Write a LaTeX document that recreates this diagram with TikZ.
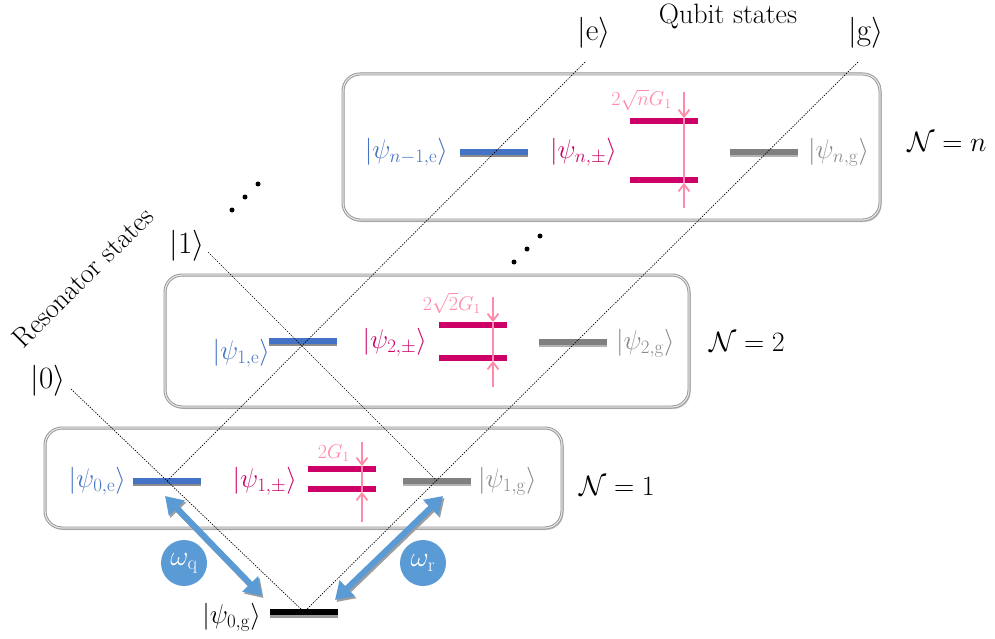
\RequirePackage{fix-cm}
\documentclass[tikz,border=0pt]{standalone}
\usepackage{amsmath}
\usetikzlibrary{arrows.meta,shadows,calc}
\definecolor{qblue}{HTML}{4472C4}
\definecolor{lblue}{HTML}{5B9BD5}
\definecolor{mag}{HTML}{CC0066}
\definecolor{lpink}{HTML}{FF8AAA}
\definecolor{dgray}{HTML}{8A8A8A}
\newcommand{\myket}[1]{\lvert #1\rangle}
\begin{document}
\begin{tikzpicture}[x=1pt,y=-1pt,
  stbox/.style={fill=white, rounded corners=17pt, draw=black!42, line width=3pt,
    drop shadow={shadow xshift=1.5pt, shadow yshift=-2pt, opacity=0.35, fill=black!60},
    postaction={draw=black!10, line width=1.2pt}},
  lev/.style={rectangle, inner sep=0pt, minimum width=68pt, minimum height=6pt},
  elev/.style={lev, fill=qblue, general shadow={fill=black!45, shadow yshift=-2pt}},
  glev/.style={lev, fill=black!50, general shadow={fill=black!30, shadow yshift=-2pt}},
  plev/.style={lev, fill=mag, minimum height=5.5pt},
  blev/.style={lev, fill=black, general shadow={fill=black!40, shadow yshift=-2.5pt}},
  lab/.style={inner sep=0pt, font=\fontsize{27}{31}\selectfont},
  ketlab/.style={inner sep=0pt, font=\fontsize{31}{35}\selectfont},
  nlab/.style={inner sep=0pt, font=\fontsize{28}{32}\selectfont},
  glab/.style={inner sep=0pt, text=lpink, font=\fontsize{20}{23}\selectfont},
  dotline/.style={draw=black, line width=0.7pt, dash pattern=on 1.3pt off 1.3pt},
  parr/.style={draw=lpink, line width=1.8pt, -{Straight Barb[length=7pt,width=11pt]}},
  pline/.style={draw=lpink, line width=1.8pt},
  dbl/.style={draw=lblue, line width=6pt, {Triangle[length=17pt,width=21pt]}-{Triangle[length=17pt,width=21pt]}},
  dblsh/.style={dbl, draw=black!38, transform canvas={xshift=1.5pt,yshift=-2pt}},
  omega/.style={circle, fill=lblue, minimum size=46pt, inner sep=0pt, text=white, font=\fontsize{28}{30}\selectfont},
  dotc/.style={circle, fill=black, inner sep=0pt, minimum size=5pt}
]
\useasboundingbox (0,0) rectangle (995,639);

% boxes
\draw[stbox] (45,428) rectangle (562,528);
\draw[stbox] (165,275) rectangle (689,407);
\draw[stbox] (343,74) rectangle (880,220);

% levels
\node[blev] (b0g) at (304,612) {};
\node[elev] (b0e) at (167,481) {};
\node[plev] (p1a) at (342,469) {};
\node[plev] (p1b) at (342,489) {};
\node[glev] (b1g) at (437,481) {};

\node[elev] (b1e) at (303,341) {};
\node[plev] (p2a) at (473,325) {};
\node[plev] (p2b) at (473,358) {};
\node[glev] (b2g) at (573,342) {};

\node[elev] (bn1e) at (494,152) {};
\node[plev] (pna) at (664,121) {};
\node[plev] (pnb) at (664,180) {};
\node[glev] (bng) at (764,152) {};

% state labels
\node[lab, text=qblue, anchor=east] (l0e) at (126,481) {$\myket{\psi_{0,\mathrm{e}}}$};
\node[lab, text=mag, anchor=east] (l1pm) at (297,481) {$\myket{\psi_{1,\pm}}$};
\node[lab, text=dgray, anchor=west] (l1g) at (478,481) {$\myket{\psi_{1,\mathrm{g}}}$};
\node[lab, text=qblue, anchor=east] (l1e) at (270,353) {$\myket{\psi_{1,\mathrm{e}}}$};
\node[lab, text=mag, anchor=east] (l2pm) at (427,342) {$\myket{\psi_{2,\pm}}$};
\node[lab, text=dgray, anchor=west] (l2g) at (616,343) {$\myket{\psi_{2,\mathrm{g}}}$};
\node[lab, text=qblue, anchor=east] (ln1e) at (448,152) {$\myket{\psi_{n-1,\mathrm{e}}}$};
\node[lab, text=mag, anchor=east] (lnpm) at (617,152) {$\myket{\psi_{n,\pm}}$};
\node[lab, text=dgray, anchor=west] (lng) at (808,152) {$\myket{\psi_{n,\mathrm{g}}}$};
\node[lab, anchor=east] (l0g) at (261,617) {$\myket{\psi_{0,\mathrm{g}}}$};

% N labels
\node[nlab] (n1) at (617,486) {$\mathcal{N}=1$};
\node[nlab] (n2) at (747,342) {$\mathcal{N}=2$};
\node[nlab] (nn) at (947,142) {$\mathcal{N}=n$};

% splitting arrows
\coordinate (a1t) at (362,442); \coordinate (a1b) at (362,522);
\draw[pline] (a1t |- p1a.north) -- (a1b |- p1b.south);
\draw[parr] (a1t) -- (a1t |- p1a.north);
\draw[parr] (a1b) -- (a1b |- p1b.south);
\node[glab, anchor=east] (g1) at (350,453) {$2G_1$};

\coordinate (a2t) at (493,297); \coordinate (a2b) at (493,387);
\draw[pline] (a2t |- p2a.north) -- (a2b |- p2b.south);
\draw[parr] (a2t) -- (a2t |- p2a.north);
\draw[parr] (a2b) -- (a2b |- p2b.south);
\node[glab, anchor=east] (g2) at (481,303) {$2\sqrt{2}G_1$};

\coordinate (ant) at (684,92); \coordinate (anb) at (684,208);
\draw[pline] (ant |- pna.north) -- (anb |- pnb.south);
\draw[parr] (ant) -- (ant |- pna.north);
\draw[parr] (anb) -- (anb |- pnb.south);
\node[glab, anchor=east] (gn) at (672,100) {$2\sqrt{n}G_1$};

% axis labels
\node[ketlab] (k0) at (48,381) {$\myket{0}$};
\node[ketlab] (k1) at (187,246) {$\myket{1}$};
\node[ketlab] (ke) at (594,33) {$\myket{\mathrm{e}}$};
\node[ketlab] (kg) at (866,33) {$\myket{\mathrm{g}}$};
\node[inner sep=0pt, rotate=45, font=\fontsize{28}{30}\selectfont] (rs) at (83,277) {Resonator states};
\node[inner sep=0pt, font=\fontsize{28}{30}\selectfont] (qs) at (728,16) {Qubit states};

% dotted lines
\coordinate (r0) at (71,389);
\coordinate (r1) at (208,252);
\coordinate (qe) at (585,62);
\coordinate (qg) at (858,62);
\draw[dotline] (r0) -- (b0g.center);
\draw[dotline] (r1) -- (b1g.center);
\draw[dotline] (qe) -- (b0e.center);
\draw[dotline] (qg) -- (b0g.center);

% dots
\node[dotc] (d1) at (232,210) {};
\node[dotc] (d2) at (245,197) {};
\node[dotc] (d3) at (258,184) {};
\node[dotc] (d4) at (514,262) {};
\node[dotc] (d5) at (527,249) {};
\node[dotc] (d6) at (540,236) {};

% transitions
\coordinate (qa) at (165,496); \coordinate (qb) at (262,596);
\coordinate (ra) at (443,496); \coordinate (rb) at (335,600);
\draw[dblsh] (qa) -- (qb);
\draw[dbl] (qa) -- (qb);
\draw[dblsh] (ra) -- (rb);
\draw[dbl] (ra) -- (rb);
\node[omega] (wq) at (184,563) {$\omega_{\mathrm{q}}$};
\node[omega] (wr) at (423,563) {$\omega_{\mathrm{r}}$};
\end{tikzpicture}
\end{document}
